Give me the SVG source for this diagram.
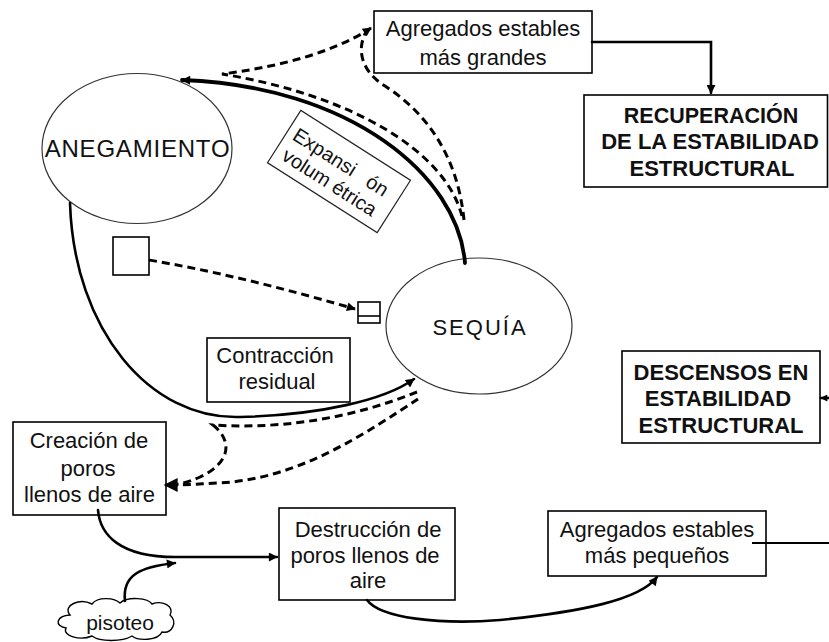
<svg xmlns="http://www.w3.org/2000/svg" width="829" height="642" viewBox="0 0 829 642">
<defs>
<style>
.bg{fill:#ffffff}
.box{fill:#ffffff;stroke:#000;stroke-width:1.6}
.ell{fill:#ffffff;stroke:#333;stroke-width:1.2}
.t{font-family:"Liberation Sans",Arial,sans-serif;font-size:22px;fill:#111;text-anchor:middle}
.tb{font-family:"Liberation Sans",Arial,sans-serif;font-size:22px;font-weight:bold;fill:#111;text-anchor:middle}
.sol{fill:none;stroke:#000;stroke-width:2.6;stroke-linecap:round}
.thick{fill:none;stroke:#000;stroke-width:3.8;stroke-linecap:round}
.dash{fill:none;stroke:#000;stroke-width:3;stroke-dasharray:8 5}
</style>
<marker id="ah" viewBox="0 0 10 10" refX="9" refY="5" markerWidth="11" markerHeight="9" markerUnits="userSpaceOnUse" orient="auto"><path d="M0,0 L10,5 L0,10 z" fill="#000"/></marker>
<marker id="ahs" viewBox="0 0 10 10" refX="9" refY="5" markerWidth="9" markerHeight="7" markerUnits="userSpaceOnUse" orient="auto"><path d="M0,0 L10,5 L0,10 z" fill="#000"/></marker>
<marker id="ahb" viewBox="0 0 10 10" refX="9" refY="5" markerWidth="18" markerHeight="14" markerUnits="userSpaceOnUse" orient="auto"><path d="M0,0 L10,5 L0,10 z" fill="#000"/></marker>
</defs>
<rect class="bg" x="0" y="0" width="829" height="642"/>

<g id="anegamiento">
<ellipse class="ell" cx="137" cy="148.5" rx="95" ry="75"/>
<text class="t" x="137.5" y="157" style="font-size:24px;letter-spacing:0.8px">ANEGAMIENTO</text>
</g>

<g id="sequia">
<ellipse class="ell" cx="479" cy="326" rx="93" ry="68"/>
<text class="t" x="480" y="335" style="letter-spacing:2px">SEQUÍA</text>
</g>

<g id="agregados-grandes">
<rect class="box" x="374" y="11" width="218" height="62"/>
<text class="t" x="483" y="36">Agregados estables</text>
<text class="t" x="483" y="65">más grandes</text>
</g>

<g id="recuperacion">
<rect class="box" x="584" y="95" width="243.5" height="92"/>
<text class="tb" x="711" y="123" style="font-size:21.5px">RECUPERACIÓN</text>
<text class="tb" x="710" y="149">DE LA ESTABILIDAD</text>
<text class="tb" x="712" y="176">ESTRUCTURAL</text>
</g>

<g id="descensos">
<rect class="box" x="622" y="351" width="198" height="92"/>
<text class="tb" x="721" y="380">DESCENSOS EN</text>
<text class="tb" x="718" y="406">ESTABILIDAD</text>
<text class="tb" x="721" y="433">ESTRUCTURAL</text>
</g>

<g id="expansion">
<g transform="translate(339,171.5) rotate(32.5)">
<rect x="-65" y="-31" width="130" height="62" fill="#ffffff" stroke="#222" stroke-width="1.2"/>
<text class="t" x="-58" y="-2" style="font-size:20px;text-anchor:start;word-spacing:10px">Expansi ón</text>
<text class="t" x="-56" y="21" style="font-size:20px;text-anchor:start">volum étrica</text>
</g>
</g>

<g id="cuadro-grande">
<rect class="box" x="113" y="237" width="36" height="38"/>
</g>

<g id="cuadro-pequeno">
<rect class="box" x="358" y="302" width="22" height="21"/>
<line x1="358" y1="316" x2="380" y2="316" stroke="#000" stroke-width="1.6"/>
</g>

<g id="contraccion">
<rect class="box" x="207" y="338" width="143" height="64"/>
<text class="t" x="275" y="363">Contracción</text>
<text class="t" x="277" y="389">residual</text>
</g>

<g id="creacion">
<rect class="box" x="13" y="422" width="153" height="93"/>
<text class="t" x="89" y="448">Creación de</text>
<text class="t" x="88" y="476">poros</text>
<text class="t" x="89.5" y="502">llenos de aire</text>
</g>

<g id="destruccion">
<rect class="box" x="279" y="508" width="176" height="92"/>
<text class="t" x="368" y="537">Destrucción de</text>
<text class="t" x="365" y="563">poros llenos de</text>
<text class="t" x="368" y="588">aire</text>
</g>

<g id="agregados-pequenos">
<rect class="box" x="548" y="511" width="218" height="65"/>
<text class="t" x="657" y="537">Agregados estables</text>
<text class="t" x="657" y="563">más pequeños</text>
</g>

<g id="pisoteo">
<path d="M70,615 C62,605 80,598 92,604 C98,596 115,598 120,603 C128,596 148,598 152,604 C162,600 175,606 170,615 C178,622 172,634 162,632 C158,641 138,641 132,636 C122,642 100,642 92,636 C80,641 62,636 66,628 C54,626 56,616 70,615 Z" fill="#ffffff" stroke="#000" stroke-width="1.4"/>
<text class="t" x="120" y="630" style="font-size:21px">pisoteo</text>
</g>

<g id="connectors">
<path class="thick" d="M465,263 C458,175 350,86 182,80" marker-end="url(#ah)"/>
<path class="sol" d="M70,203 C74,330 150,420 240,417 C320,415 385,400 414,379" marker-end="url(#ah)"/>
<path class="dash" d="M462,216 C445,150 350,95 222,74 C270,68 330,55 371,28" marker-end="url(#ah)"/>
<path class="dash" d="M464,220 C458,160 430,115 385,86 C362,72 356,50 366,32"/>
<path class="dash" d="M417,392 C360,415 290,430 213,425 C232,440 232,462 200,477 C185,484 175,485 165,485" marker-end="url(#ahb)"/>
<path class="dash" d="M418,399 C370,430 300,480 217,483 C200,484 185,485 165,485"/>
<path class="dash" d="M149,260 C220,272 290,290 355,309" marker-end="url(#ah)"/>
<path class="sol" d="M592,42 L711,42 L711,93" marker-end="url(#ah)"/>
<path class="sol" d="M98,510 C100,535 120,557 175,557 L277,557" marker-end="url(#ah)"/>
<path class="sol" d="M125,601 C122,575 140,567 175,563" marker-end="url(#ah)"/>
<path class="sol" d="M367,600 C380,618 440,625 500,620 C580,612 640,600 657,577" marker-end="url(#ah)"/>
<path class="sol" d="M829,398 L821,398" marker-end="url(#ahs)"/>
<line x1="752" y1="543" x2="829" y2="543" stroke="#000" stroke-width="2.2"/>
</g>
</svg>
